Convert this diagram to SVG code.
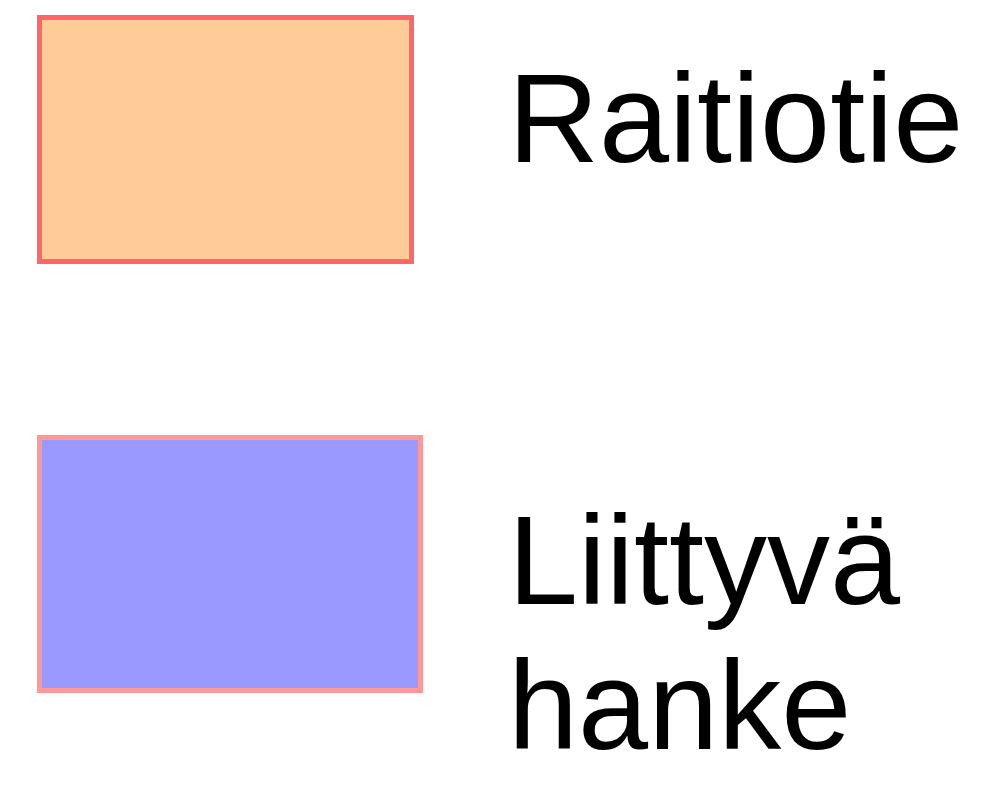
<svg xmlns="http://www.w3.org/2000/svg" width="1002" height="786" viewBox="0 0 1002 786">
<style>
.lbl{font-family:"Liberation Sans",Arial,sans-serif;font-size:126px;fill:#000}
</style>
<rect width="1002" height="786" fill="#fff"/>
<g id="raitiotie">
<rect x="39.5" y="17.5" width="372" height="244" fill="#FFCC99" stroke="#FF6666" stroke-width="5"/>
<text class="lbl" x="508" y="162">Raitiotie</text>
</g>
<g id="liittyva-hanke">
<rect x="39.5" y="437.5" width="381" height="253" fill="#9999FF" stroke="#FF9999" stroke-width="5"/>
<text class="lbl" x="508" y="604">Liittyvä</text>
<text class="lbl" x="508" y="749">hanke</text>
</g>
<g id="connectors"/>
</svg>
